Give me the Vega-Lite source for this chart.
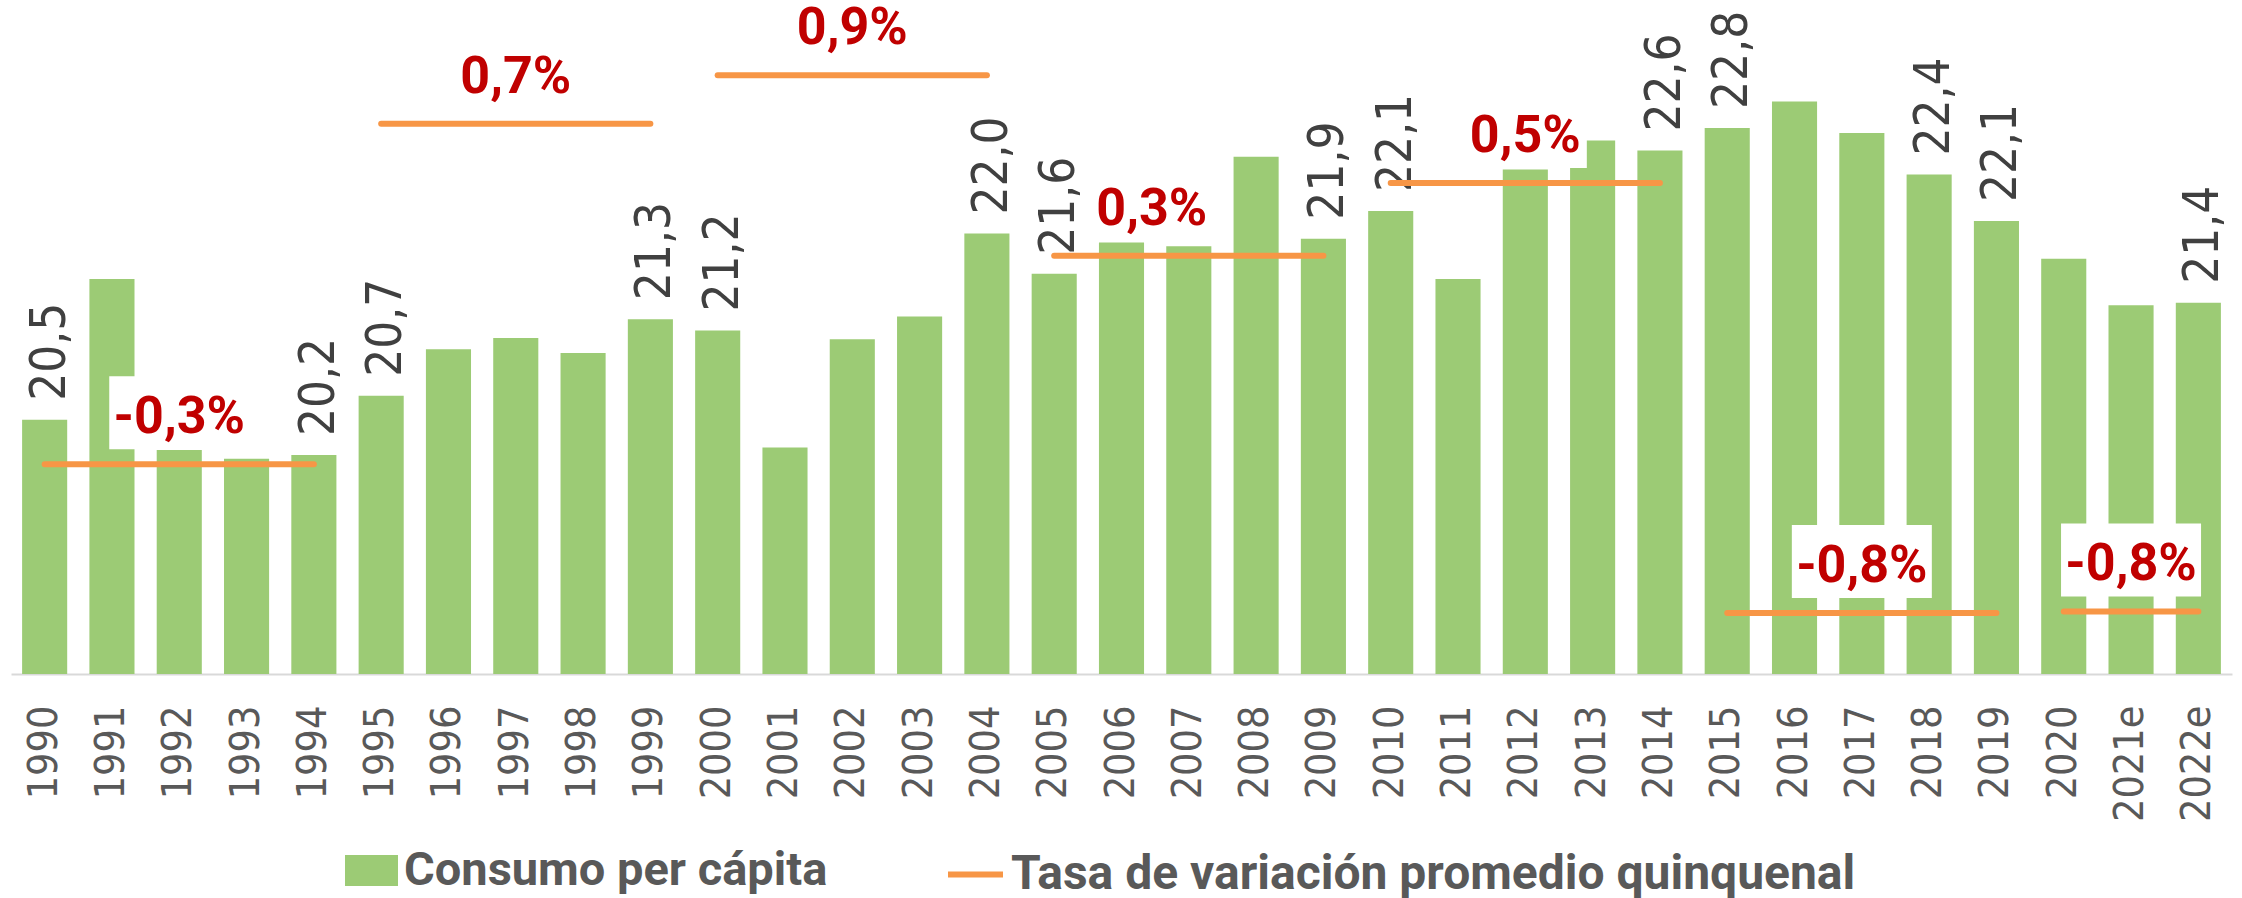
{
  "$schema": "https://vega.github.io/schema/vega-lite/v6.json",
  "width": 2221,
  "height": 674,
  "autosize": {"type": "none"},
  "padding": {"left": 11, "right": 10, "top": 0, "bottom": 224},
  "background": "white",
  "datasets": {
    "consumo": [
      {"anio": "1990", "consumo": 20.48},
      {"anio": "1991", "consumo": 21.60},
      {"anio": "1992", "consumo": 20.24},
      {"anio": "1993", "consumo": 20.17},
      {"anio": "1994", "consumo": 20.20},
      {"anio": "1995", "consumo": 20.67},
      {"anio": "1996", "consumo": 21.04},
      {"anio": "1997", "consumo": 21.13},
      {"anio": "1998", "consumo": 21.01},
      {"anio": "1999", "consumo": 21.28},
      {"anio": "2000", "consumo": 21.19},
      {"anio": "2001", "consumo": 20.26},
      {"anio": "2002", "consumo": 21.12},
      {"anio": "2003", "consumo": 21.30},
      {"anio": "2004", "consumo": 21.96},
      {"anio": "2005", "consumo": 21.64},
      {"anio": "2006", "consumo": 21.89},
      {"anio": "2007", "consumo": 21.86},
      {"anio": "2008", "consumo": 22.57},
      {"anio": "2009", "consumo": 21.92},
      {"anio": "2010", "consumo": 22.14},
      {"anio": "2011", "consumo": 21.60},
      {"anio": "2012", "consumo": 22.47},
      {"anio": "2013", "consumo": 22.70},
      {"anio": "2014", "consumo": 22.62},
      {"anio": "2015", "consumo": 22.80},
      {"anio": "2016", "consumo": 23.01},
      {"anio": "2017", "consumo": 22.76},
      {"anio": "2018", "consumo": 22.43},
      {"anio": "2019", "consumo": 22.06},
      {"anio": "2020", "consumo": 21.76},
      {"anio": "2021e", "consumo": 21.39},
      {"anio": "2022e", "consumo": 21.41}
    ],
    "tasas": [
      {"anio": "1990", "periodo": "1990-1994", "tasa": -0.00336},
      {"anio": "1991", "periodo": "1990-1994", "tasa": -0.00336},
      {"anio": "1992", "periodo": "1990-1994", "tasa": -0.00336},
      {"anio": "1993", "periodo": "1990-1994", "tasa": -0.00336},
      {"anio": "1994", "periodo": "1990-1994", "tasa": -0.00336},
      {"anio": "1995", "periodo": "1995-1999", "tasa": 0.00716},
      {"anio": "1996", "periodo": "1995-1999", "tasa": 0.00716},
      {"anio": "1997", "periodo": "1995-1999", "tasa": 0.00716},
      {"anio": "1998", "periodo": "1995-1999", "tasa": 0.00716},
      {"anio": "1999", "periodo": "1995-1999", "tasa": 0.00716},
      {"anio": "2000", "periodo": "2000-2004", "tasa": 0.00866},
      {"anio": "2001", "periodo": "2000-2004", "tasa": 0.00866},
      {"anio": "2002", "periodo": "2000-2004", "tasa": 0.00866},
      {"anio": "2003", "periodo": "2000-2004", "tasa": 0.00866},
      {"anio": "2004", "periodo": "2000-2004", "tasa": 0.00866},
      {"anio": "2005", "periodo": "2005-2009", "tasa": 0.00308},
      {"anio": "2006", "periodo": "2005-2009", "tasa": 0.00308},
      {"anio": "2007", "periodo": "2005-2009", "tasa": 0.00308},
      {"anio": "2008", "periodo": "2005-2009", "tasa": 0.00308},
      {"anio": "2009", "periodo": "2005-2009", "tasa": 0.00308},
      {"anio": "2010", "periodo": "2010-2014", "tasa": 0.00533},
      {"anio": "2011", "periodo": "2010-2014", "tasa": 0.00533},
      {"anio": "2012", "periodo": "2010-2014", "tasa": 0.00533},
      {"anio": "2013", "periodo": "2010-2014", "tasa": 0.00533},
      {"anio": "2014", "periodo": "2010-2014", "tasa": 0.00533},
      {"anio": "2015", "periodo": "2015-2019", "tasa": -0.00796},
      {"anio": "2016", "periodo": "2015-2019", "tasa": -0.00796},
      {"anio": "2017", "periodo": "2015-2019", "tasa": -0.00796},
      {"anio": "2018", "periodo": "2015-2019", "tasa": -0.00796},
      {"anio": "2019", "periodo": "2015-2019", "tasa": -0.00796},
      {"anio": "2020", "periodo": "2020-2022e", "tasa": -0.00791},
      {"anio": "2021e", "periodo": "2020-2022e", "tasa": -0.00791},
      {"anio": "2022e", "periodo": "2020-2022e", "tasa": -0.00791}
    ]
  },
  "layer": [
    {
      "data": {"name": "consumo"},
      "layer": [
        {
          "mark": {"type": "bar", "clip": true},
          "encoding": {
            "x": {"field": "anio", "type": "ordinal", "title": null, "scale": {"paddingInner": 0.33, "paddingOuter": 0.165}},
            "y": {"field": "consumo", "type": "quantitative", "scale": {"domain": [18.459, 23.817], "zero": false, "nice": false}, "axis": null},
            "fill": {
              "datum": "Consumo per cápita",
              "type": "nominal",
              "scale": {"range": ["#9CCB75"]},
              "legend": {
                "orient": "none", "legendX": 334, "legendY": 844, "title": null,
                "symbolType": "M-1,-0.585H1V0.585H-1Z", "symbolSize": 2809, "symbolStrokeWidth": 0,
                "labelFont": "Roboto", "labelFontSize": 47, "labelFontWeight": "bold", "labelColor": "#595959",
                "labelOffset": 6, "labelLimit": 0, "padding": 0
              }
            }
          }
        },
        {
          "transform": [{"filter": {"field": "anio", "oneOf": ["1990", "1994", "1995", "1999", "2000", "2004", "2005", "2009", "2010", "2014", "2015", "2018", "2019", "2022e"]}}],
          "mark": {"type": "text", "angle": 270, "align": "left", "baseline": "middle", "dx": 19, "dy": 5, "font": "DejaVu Sans Condensed, Liberation Sans, sans-serif", "fontSize": 49, "fill": "#404040"},
          "encoding": {
            "x": {"field": "anio", "type": "ordinal", "title": null},
            "y": {"field": "consumo", "type": "quantitative"},
            "text": {"field": "consumo", "type": "quantitative", "format": ".1f"}
          }
        }
      ]
    },
    {
      "data": {"name": "tasas"},
      "layer": [
        {
          "mark": {"type": "line", "strokeWidth": 6, "strokeCap": "round"},
          "encoding": {
            "x": {"field": "anio", "type": "ordinal", "title": null},
            "y": {"field": "tasa", "type": "quantitative", "scale": {"domain": [-0.009845, 0.010989], "zero": false, "nice": false}, "axis": null},
            "detail": {"field": "periodo", "type": "nominal"},
            "stroke": {
              "datum": "Tasa de variación promedio quinquenal",
              "type": "nominal",
              "scale": {"range": ["#F79646"]},
              "legend": {
                "orient": "none", "legendX": 934, "legendY": 844, "title": null,
                "symbolType": "stroke", "symbolSize": 3025, "symbolStrokeWidth": 6,
                "labelFont": "Roboto", "labelFontSize": 48, "labelFontWeight": "bold", "labelColor": "#595959",
                "labelOffset": 5, "labelLimit": 0, "padding": 0
              }
            }
          }
        },
        {
          "transform": [{"filter": {"field": "anio", "oneOf": ["1992", "1997", "2002", "2012", "2017", "2021e"]}}],
          "mark": {"type": "point", "filled": true, "fill": "white", "opacity": 1, "strokeOpacity": 0},
          "encoding": {
            "x": {"field": "anio", "type": "ordinal", "title": null},
            "y": {"field": "tasa", "type": "quantitative"},
            "shape": {"condition": {"test": "datum.tasa < 0", "value": "M-1,-1.2571H1V-0.2143H-1Z"}, "value": "M-1,-1.4309H1V-0.2439H-1Z"},
            "size": {"condition": {"test": "datum.tasa < 0", "value": 19600}, "value": 15129}
          }
        },
        {
          "transform": [{"filter": {"field": "anio", "oneOf": ["1992", "1997", "2002", "2012", "2017", "2021e"]}}],
          "mark": {"type": "text", "align": "center", "baseline": "middle", "dy": -47, "font": "Roboto", "fontWeight": "bold", "fontSize": 52, "fill": "#C00000"},
          "encoding": {
            "x": {"field": "anio", "type": "ordinal", "title": null},
            "y": {"field": "tasa", "type": "quantitative"},
            "text": {"field": "tasa", "type": "quantitative", "format": ".1%"}
          }
        },
        {
          "transform": [{"filter": {"field": "anio", "equal": "2007"}}],
          "mark": {"type": "text", "align": "center", "baseline": "middle", "dx": -37, "dy": -47, "font": "Roboto", "fontWeight": "bold", "fontSize": 52, "fill": "#C00000"},
          "encoding": {
            "x": {"field": "anio", "type": "ordinal", "title": null},
            "y": {"field": "tasa", "type": "quantitative"},
            "text": {"field": "tasa", "type": "quantitative", "format": ".1%"}
          }
        }
      ]
    }
  ],
  "resolve": {"scale": {"y": "independent"}},
  "config": {
    "view": {"stroke": null},
    "axisX": {
      "domainColor": "#D9D9D9",
      "domainWidth": 2,
      "ticks": false,
      "tickSize": 0,
      "grid": false,
      "labelAngle": 270,
      "labelFont": "DejaVu Sans Condensed, Liberation Sans, sans-serif",
      "labelFontSize": 41,
      "labelColor": "#595959",
      "labelPadding": 31
    },
    "locale": {
      "number": {"decimal": ",", "thousands": ".", "grouping": [3], "currency": ["", " €"], "minus": "-"}
    }
  }
}
